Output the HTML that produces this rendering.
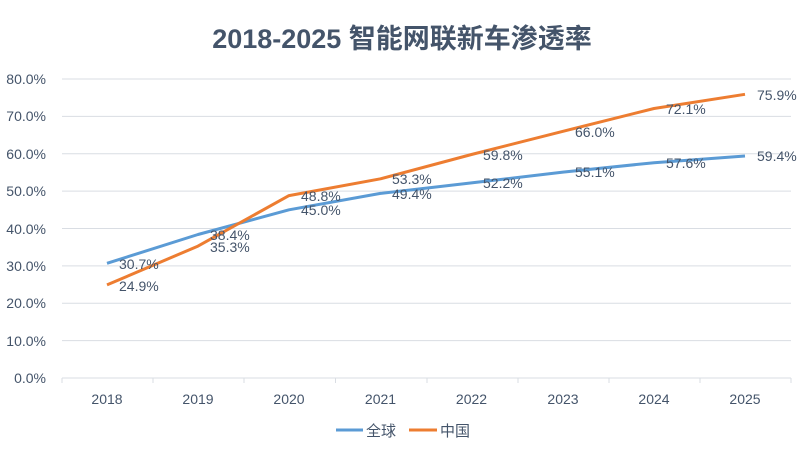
<!DOCTYPE html>
<html><head><meta charset="utf-8"><style>
body{margin:0;background:#fff}
text{font-family:"Liberation Sans","Noto Sans CJK SC",sans-serif;fill:#44546a}
</style></head><body>
<svg width="805" height="451" xmlns="http://www.w3.org/2000/svg">
<rect width="805" height="451" fill="#fff"/>
<text x="402" y="48" text-anchor="middle" font-size="27" font-weight="bold">2018-2025 智能网联新车渗透率</text>
<g stroke="#d9dde3" stroke-width="1">
<line x1="62" x2="791" y1="79" y2="79"/><line x1="62" x2="791" y1="116.4" y2="116.4"/>
<line x1="62" x2="791" y1="153.8" y2="153.8"/><line x1="62" x2="791" y1="191.1" y2="191.1"/>
<line x1="62" x2="791" y1="228.5" y2="228.5"/><line x1="62" x2="791" y1="265.9" y2="265.9"/>
<line x1="62" x2="791" y1="303.3" y2="303.3"/><line x1="62" x2="791" y1="340.6" y2="340.6"/>
<line x1="62" x2="791" y1="378" y2="378"/>
<line x1="62" x2="62" y1="378" y2="383"/><line x1="153" x2="153" y1="378" y2="383"/>
<line x1="244" x2="244" y1="378" y2="383"/><line x1="335.5" x2="335.5" y1="378" y2="383"/>
<line x1="427" x2="427" y1="378" y2="383"/><line x1="518" x2="518" y1="378" y2="383"/>
<line x1="609" x2="609" y1="378" y2="383"/><line x1="700" x2="700" y1="378" y2="383"/>
<line x1="791" x2="791" y1="378" y2="383"/>
</g>
<g font-size="14" text-anchor="end">
<text x="46" y="84">80.0%</text><text x="46" y="121">70.0%</text><text x="46" y="159">60.0%</text>
<text x="46" y="196">50.0%</text><text x="46" y="234">40.0%</text><text x="46" y="271">30.0%</text>
<text x="46" y="308">20.0%</text><text x="46" y="346">10.0%</text><text x="46" y="383">0.0%</text>
</g>
<g font-size="14" text-anchor="middle">
<text x="107" y="404">2018</text><text x="198" y="404">2019</text><text x="289" y="404">2020</text>
<text x="380.5" y="404">2021</text><text x="471.5" y="404">2022</text><text x="563" y="404">2023</text>
<text x="654" y="404">2024</text><text x="745" y="404">2025</text>
</g>
<polyline fill="none" stroke="#5b9bd5" stroke-width="3" stroke-linejoin="round" points="107,263.3 198,234.5 289,209.8 380.5,193.4 471.5,182.9 563,172.1 654,162.7 745,156"/>
<polyline fill="none" stroke="#ed7d31" stroke-width="3" stroke-linejoin="round" points="107,284.9 198,246.1 289,195.6 380.5,178.8 471.5,154.5 563,131.3 654,108.5 745,94.3"/>
<g font-size="14">
<text x="119" y="269">30.7%</text><text x="210" y="240">38.4%</text><text x="301" y="215">45.0%</text>
<text x="392" y="199">49.4%</text><text x="483" y="188">52.2%</text><text x="575" y="177">55.1%</text>
<text x="666" y="168">57.6%</text><text x="757" y="161">59.4%</text>
<text x="119" y="291">24.9%</text><text x="210" y="252">35.3%</text><text x="301" y="201">48.8%</text>
<text x="392" y="184">53.3%</text><text x="483" y="160">59.8%</text><text x="575" y="137">66.0%</text>
<text x="666" y="114">72.1%</text><text x="757" y="100">75.9%</text>
</g>
<line x1="336" x2="363" y1="430" y2="430" stroke="#5b9bd5" stroke-width="3"/>
<text x="366" y="436" font-size="15">全球</text>
<line x1="409" x2="437" y1="430" y2="430" stroke="#ed7d31" stroke-width="3"/>
<text x="440" y="436" font-size="15">中国</text>
</svg>
</body></html>
